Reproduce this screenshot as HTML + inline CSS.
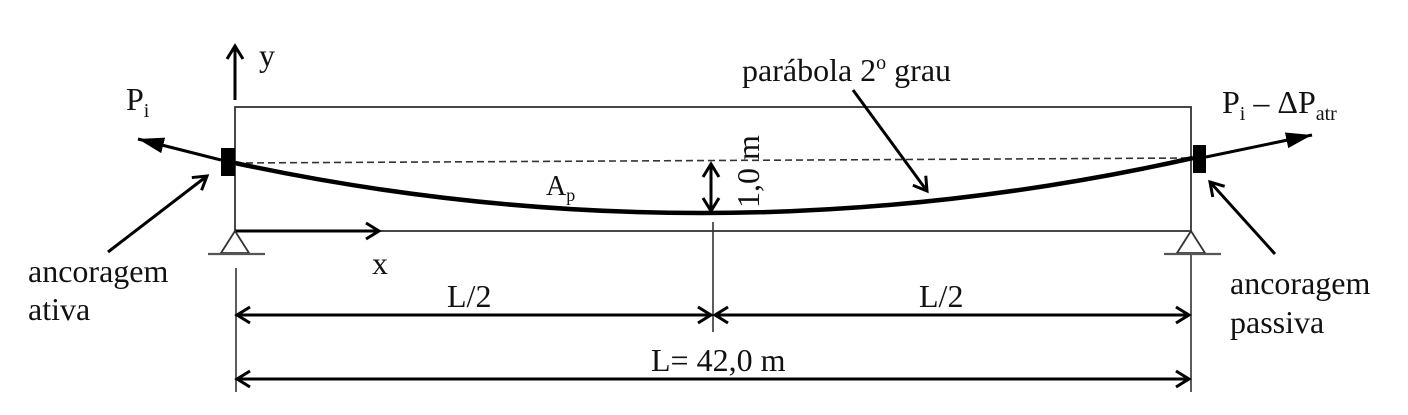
<!DOCTYPE html>
<html><head><meta charset="utf-8"><style>
html,body{margin:0;padding:0;background:#fff;}
svg{display:block;}
text{font-family:"Liberation Serif",serif;fill:#111;}
</style></head><body>
<svg width="1408" height="415" viewBox="0 0 1408 415" xmlns="http://www.w3.org/2000/svg">
<defs>
<marker id="oa" markerWidth="20" markerHeight="20" refX="15" refY="10" orient="auto" markerUnits="userSpaceOnUse">
<path d="M2,2 L15,10 L2,18" fill="none" stroke="#000" stroke-width="3"/></marker>
<marker id="fa" markerWidth="28" markerHeight="18" refX="26" refY="9" orient="auto" markerUnits="userSpaceOnUse">
<path d="M0,1 L26,9 L0,17 Z" fill="#000"/></marker>
<marker id="oas" markerWidth="20" markerHeight="20" refX="15" refY="10" orient="auto-start-reverse" markerUnits="userSpaceOnUse">
<path d="M2,2 L15,10 L2,18" fill="none" stroke="#000" stroke-width="3"/></marker>
</defs>
<rect x="235" y="107" width="956" height="124" fill="none" stroke="#333" stroke-width="1.8"/>
<line x1="235" y1="163" x2="1193" y2="158" stroke="#333" stroke-width="1.6" stroke-dasharray="7,4"/>
<path d="M235,163 Q712,265.5 1193,158" fill="none" stroke="#000" stroke-width="4.5"/>
<rect x="221" y="148" width="14" height="28" fill="#000"/>
<rect x="1193" y="145" width="13" height="28" fill="#000"/>
<line x1="221" y1="160" x2="138" y2="139" stroke="#000" stroke-width="3" marker-end="url(#fa)"/>
<line x1="1206" y1="157" x2="1312" y2="135" stroke="#000" stroke-width="3" marker-end="url(#fa)"/>
<line x1="235" y1="100" x2="235" y2="46" stroke="#000" stroke-width="3" marker-end="url(#oa)"/>
<text x="259" y="66" font-size="32">y</text>
<line x1="235" y1="231" x2="379" y2="231" stroke="#000" stroke-width="3" marker-end="url(#oa)"/>
<text x="372" y="274" font-size="32">x</text>
<path d="M235,231 L221,253 L249,253 Z" fill="none" stroke="#333" stroke-width="1.8"/>
<line x1="208" y1="254" x2="265" y2="254" stroke="#555" stroke-width="2.2"/>
<path d="M1191,231 L1177,253 L1205,253 Z" fill="none" stroke="#333" stroke-width="1.8"/>
<line x1="1164" y1="254" x2="1221" y2="254" stroke="#555" stroke-width="2.2"/>
<line x1="236" y1="268" x2="236" y2="392" stroke="#333" stroke-width="1.6"/>
<line x1="1191" y1="255" x2="1191" y2="392" stroke="#333" stroke-width="1.6"/>
<line x1="713" y1="222" x2="713" y2="332" stroke="#333" stroke-width="1.6"/>
<line x1="237" y1="315" x2="711" y2="315" stroke="#000" stroke-width="3" marker-start="url(#oas)" marker-end="url(#oa)"/>
<line x1="715" y1="315" x2="1189" y2="315" stroke="#000" stroke-width="3" marker-start="url(#oas)" marker-end="url(#oa)"/>
<line x1="237" y1="379" x2="1189" y2="379" stroke="#000" stroke-width="3" marker-start="url(#oas)" marker-end="url(#oa)"/>
<text x="447" y="307" font-size="32">L/2</text>
<text x="919" y="307" font-size="32">L/2</text>
<text x="651" y="371" font-size="32">L= 42,0 m</text>
<line x1="711" y1="164" x2="711" y2="211" stroke="#000" stroke-width="3" marker-start="url(#oas)" marker-end="url(#oa)"/>
<text transform="translate(759,208) rotate(-90)" font-size="32">1,0 m</text>
<text x="546" y="195" font-size="28">A<tspan font-size="18" dy="6">p</tspan></text>
<text x="742" y="81" font-size="32">parábola 2<tspan font-size="20" dy="-12">o</tspan><tspan dy="12"> grau</tspan></text>
<line x1="853" y1="90" x2="927" y2="191" stroke="#000" stroke-width="3" marker-end="url(#oa)"/>
<text x="126" y="110" font-size="32">P<tspan font-size="20" dy="7">i</tspan></text>
<text x="1222" y="113" font-size="32">P<tspan font-size="20" dy="7">i</tspan><tspan dy="-7"> – ΔP</tspan><tspan font-size="20" dy="7">atr</tspan></text>
<line x1="108" y1="252" x2="207" y2="176" stroke="#000" stroke-width="3" marker-end="url(#oa)"/>
<text x="28" y="282" font-size="32">ancoragem</text>
<text x="28" y="320" font-size="32">ativa</text>
<line x1="1275" y1="254" x2="1210" y2="182" stroke="#000" stroke-width="3" marker-end="url(#oa)"/>
<text x="1230" y="294" font-size="32">ancoragem</text>
<text x="1230" y="333" font-size="32">passiva</text>
</svg>
</body></html>
